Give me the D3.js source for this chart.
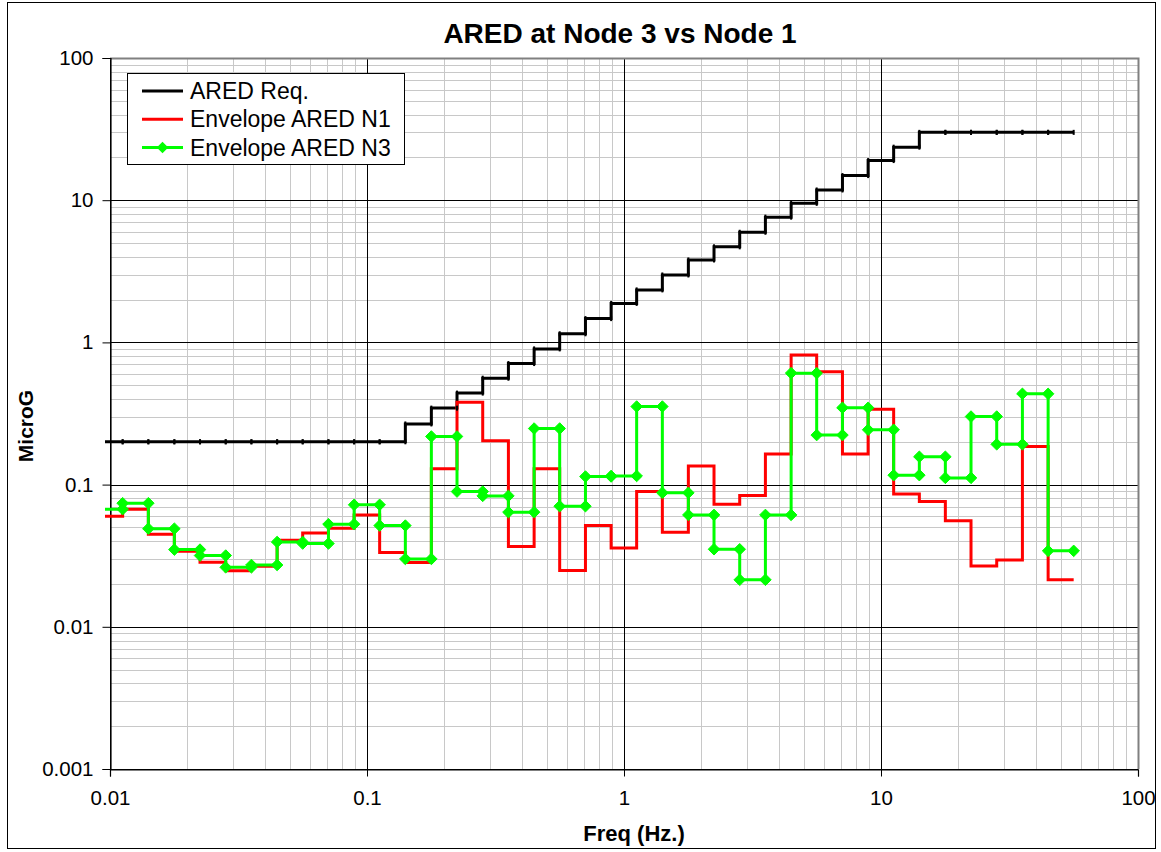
<!DOCTYPE html>
<html>
<head>
<meta charset="utf-8">
<script src="https://cdn.jsdelivr.net/npm/d3@7"></script>
<style>
  body { margin: 0; background: #fff; }
  svg { display: block; font-family: "Liberation Sans", Arial, sans-serif; }
</style>
</head>
<body>
<svg id="chart" width="1161" height="852"></svg>
<script>
// third-octave band edges (Hz)
const bandEdges = [0.00891, 0.0112, 0.0141, 0.0178, 0.0224, 0.0282, 0.0355, 0.0447, 0.0562, 0.0708,
  0.0891, 0.112, 0.141, 0.178, 0.224, 0.282, 0.355, 0.447, 0.562, 0.708,
  0.891, 1.12, 1.41, 1.78, 2.24, 2.82, 3.55, 4.47, 5.62, 7.08,
  8.91, 11.2, 14.1, 17.8, 22.4, 28.2, 35.5, 44.7, 56.2];

// one value per band
const aredReq = [0.2, 0.2, 0.2, 0.2, 0.2, 0.2, 0.2, 0.2, 0.2, 0.2,
  0.2, 0.2, 0.267, 0.345, 0.44, 0.56, 0.71, 0.9, 1.15, 1.47,
  1.88, 2.34, 2.98, 3.8, 4.7, 5.95, 7.6, 9.5, 11.8, 14.9,
  19.0, 23.6, 30, 30, 30, 30, 30, 30];

const envN1 = [0.060, 0.067, 0.0448, 0.034, 0.0284, 0.0248, 0.0267, 0.0406, 0.0457, 0.0494,
  0.0612, 0.0333, 0.0283, 0.129, 0.38, 0.203, 0.0367, 0.129, 0.0249, 0.0515,
  0.0358, 0.0893, 0.0463, 0.135, 0.0728, 0.0838, 0.164, 0.814, 0.621, 0.164,
  0.339, 0.086, 0.076, 0.0556, 0.0268, 0.0295, 0.185, 0.0214];

const envN3 = [0.0672, 0.074, 0.049, 0.0349, 0.0317, 0.0262, 0.0272, 0.0395, 0.0385, 0.0527,
  0.0721, 0.0515, 0.030, 0.218, 0.0893, 0.0833, 0.064, 0.248, 0.0705, 0.114,
  0.115, 0.354, 0.0875, 0.0612, 0.0351, 0.0214, 0.0612, 0.608, 0.223, 0.347,
  0.243, 0.1165, 0.157, 0.1115, 0.301, 0.192, 0.435, 0.0342];

const xTicks = [0.01, 0.1, 1, 10, 100];
const yTicks = [0.001, 0.01, 0.1, 1, 10, 100];
const seriesNames = ["ARED Req.", "Envelope ARED N1", "Envelope ARED N3"];
const seriesColors = ["#000000", "#ff0000", "#00ff00"];

const svg = d3.select("#chart");
const plotL = 110, plotR = 1138, plotT = 58, plotB = 769;

const x = d3.scaleLog().domain([0.01, 100]).range([plotL, plotR]);
const y = d3.scaleLog().domain([0.001, 100]).range([plotB, plotT]);

// outer chart border
svg.append("rect")
  .attr("x", 7.5).attr("y", 2.5)
  .attr("width", 1148).attr("height", 846)
  .attr("fill", "#fff").attr("stroke", "#000").attr("stroke-width", 1);

// minor grid
const minorX = [];
const minorY = [];
for (let d = 0.01; d < 99; d *= 10) {
  for (let k = 2; k <= 9; k++) minorX.push(d * k);
}
for (let d = 0.001; d < 99; d *= 10) {
  for (let k = 2; k <= 9; k++) minorY.push(d * k);
}

const grid = svg.append("g");
grid.selectAll(".mx").data(minorX).enter().append("line")
  .attr("x1", d => Math.round(x(d)) + 0.5).attr("x2", d => Math.round(x(d)) + 0.5)
  .attr("y1", plotT).attr("y2", plotB)
  .attr("stroke", "#c8c8c8").attr("stroke-width", 1);
grid.selectAll(".my").data(minorY).enter().append("line")
  .attr("y1", d => Math.round(y(d)) + 0.5).attr("y2", d => Math.round(y(d)) + 0.5)
  .attr("x1", plotL).attr("x2", plotR)
  .attr("stroke", "#c8c8c8").attr("stroke-width", 1);

// major grid
grid.selectAll(".Mx").data(xTicks).enter().append("line")
  .attr("x1", d => Math.round(x(d)) + 0.5).attr("x2", d => Math.round(x(d)) + 0.5)
  .attr("y1", plotT).attr("y2", plotB)
  .attr("stroke", "#000").attr("stroke-width", 1);
grid.selectAll(".My").data(yTicks).enter().append("line")
  .attr("y1", d => Math.round(y(d)) + 0.5).attr("y2", d => Math.round(y(d)) + 0.5)
  .attr("x1", plotL).attr("x2", plotR)
  .attr("stroke", "#000").attr("stroke-width", 1);

// plot area border (grey top/right)
svg.append("path")
  .attr("d", `M${plotL},${plotT + 0.5}H${plotR + 0.5}V${plotB}`)
  .attr("fill", "none").attr("stroke", "#808080").attr("stroke-width", 2);

// axes
const xAxis = d3.axisBottom(x).tickValues(xTicks).tickSize(7).tickPadding(14)
  .tickFormat(d => String(d));
const yAxis = d3.axisLeft(y).tickValues(yTicks).tickSize(8).tickPadding(9)
  .tickFormat(d => String(d));

const gx = svg.append("g").attr("transform", `translate(0,${plotB + 0.5})`).call(xAxis);
const gy = svg.append("g").attr("transform", `translate(${plotL + 0.5},0)`).call(yAxis);
[gx, gy].forEach(g => {
  g.select(".domain").attr("stroke", "#000").attr("stroke-width", 1.2);
  g.selectAll(".tick line").attr("stroke", "#000");
  g.selectAll(".tick text").attr("font-size", 20.5).attr("fill", "#000")
    .attr("font-family", "'Liberation Sans', Arial, sans-serif");
});

// title and axis titles
svg.append("text")
  .attr("x", 620).attr("y", 43)
  .attr("text-anchor", "middle")
  .attr("font-size", 28).attr("font-weight", "bold")
  .text("ARED at Node 3 vs Node 1");

svg.append("text")
  .attr("x", 634).attr("y", 841)
  .attr("text-anchor", "middle")
  .attr("font-size", 22).attr("font-weight", "bold")
  .text("Freq (Hz.)");

svg.append("text")
  .attr("transform", "translate(33,426) rotate(-90)")
  .attr("text-anchor", "middle")
  .attr("font-size", 21).attr("font-weight", "bold")
  .text("MicroG");

// series as step lines
svg.append("clipPath").attr("id", "plotClip")
  .append("rect").attr("x", plotL - 5).attr("y", plotT).attr("width", plotR - plotL + 5).attr("height", plotB - plotT);

const toSteps = vals => vals.flatMap((v, i) => [[bandEdges[i], v], [bandEdges[i + 1], v]]);
const line = d3.line().x(d => x(d[0])).y(d => y(d[1]));

const plot = svg.append("g").attr("clip-path", "url(#plotClip)");
const seriesData = [aredReq, envN1, envN3];

seriesData.forEach((vals, i) => {
  plot.append("path")
    .datum(toSteps(vals))
    .attr("d", line)
    .attr("fill", "none")
    .attr("stroke", seriesColors[i])
    .attr("stroke-width", 3)
    .attr("stroke-linejoin", "miter");
});

// tiny dash markers on the requirement curve
plot.selectAll(".reqMark").data(toSteps(aredReq)).enter().append("rect")
  .attr("x", d => x(d[0]) - 1).attr("y", d => y(d[1]) - 2.5)
  .attr("width", 2).attr("height", 5).attr("fill", "#000");

// diamond markers on N3
const diamond = d3.symbol().type(d3.symbolDiamond2).size(85);
plot.selectAll(".n3Mark").data(toSteps(envN3)).enter().append("path")
  .attr("d", diamond)
  .attr("transform", d => `translate(${x(d[0])},${y(d[1])})`)
  .attr("fill", "#00ff00").attr("stroke", "#00ff00").attr("stroke-width", 1);

// legend
const legend = svg.append("g").attr("transform", "translate(127,73)");
legend.append("rect")
  .attr("x", 0.5).attr("y", 0.5).attr("width", 277).attr("height", 91)
  .attr("fill", "#fff").attr("stroke", "#000").attr("stroke-width", 1);

seriesNames.forEach((name, i) => {
  const ly = 18 + i * 28.3;
  const row = legend.append("g").attr("transform", `translate(0,${ly})`);
  row.append("line")
    .attr("x1", 15).attr("x2", 56).attr("y1", 0).attr("y2", 0)
    .attr("stroke", seriesColors[i]).attr("stroke-width", 3);
  if (i === 2) {
    row.append("path").attr("d", diamond).attr("transform", "translate(35.5,0)")
      .attr("fill", "#00ff00");
  }
  row.append("text")
    .attr("x", 63).attr("y", 8)
    .attr("font-size", 23)
    .text(name);
});
</script>
</body>
</html>
